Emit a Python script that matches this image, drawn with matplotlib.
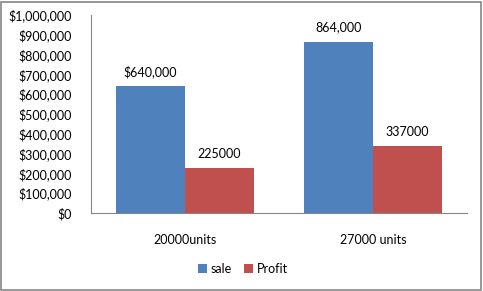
import numpy as np
import matplotlib
matplotlib.use("Agg")
import matplotlib.pyplot as plt
from matplotlib.patches import Rectangle

categories = ["20000units", "27000 units"]
sale = [640000, 864000]
profit = [225000, 337000]
sale_labels = ["$640,000", "864,000"]
profit_labels = ["225000", "337000"]
y_ticks = [0, 100000, 200000, 300000, 400000, 500000, 600000, 700000, 800000, 900000, 1000000]

plt.rcParams['font.family'] = ['Lato', 'DejaVu Sans']
fs = 9

W, H = 483, 291
fig = plt.figure(figsize=(W / 100, H / 100), dpi=100)
# outer chart border
fig.patches.append(Rectangle((1 / W, 1 / H), 480 / W, 288 / H, transform=fig.transFigure,
                             fill=False, edgecolor='#868686', linewidth=1.2))

ax = fig.add_axes([91 / W, (H - 213) / H, 376 / W, 198 / H])
x = np.arange(len(categories))
w = 0.367
b1 = ax.bar(x - w / 2, sale, w, color='#4F81BD', label='sale')
b2 = ax.bar(x + w / 2, profit, w, color='#C0504D', label='Profit')

for rect, lab in zip(b1, sale_labels):
    ax.text(rect.get_x() + rect.get_width() / 2, rect.get_height() + 42000, lab,
            ha='center', va='bottom', fontsize=fs)
for rect, lab in zip(b2, profit_labels):
    ax.text(rect.get_x() + rect.get_width() / 2, rect.get_height() + 42000, lab,
            ha='center', va='bottom', fontsize=fs)

ax.set_xlim(-0.5, 1.5)
ax.set_ylim(0, 1000000)
ax.set_yticks(y_ticks)
ax.set_yticklabels(['${:,}'.format(v) for v in y_ticks], fontsize=fs)
ax.set_xticks(x)
ax.set_xticklabels(categories, fontsize=fs)
ax.tick_params(axis='both', length=0)
ax.tick_params(axis='y', pad=14)
ax.tick_params(axis='x', pad=15)
for s in ['top', 'right']:
    ax.spines[s].set_visible(False)
for s in ['left', 'bottom']:
    ax.spines[s].set_color('#868686')

ax.legend(loc='center', bbox_to_anchor=(243 / W, (H - 269) / H), bbox_transform=fig.transFigure,
          ncol=2, frameon=False, fontsize=fs, handlelength=0.7, handleheight=0.7,
          handletextpad=0.3, columnspacing=1.0)

fig.savefig('out.png', dpi=100)
